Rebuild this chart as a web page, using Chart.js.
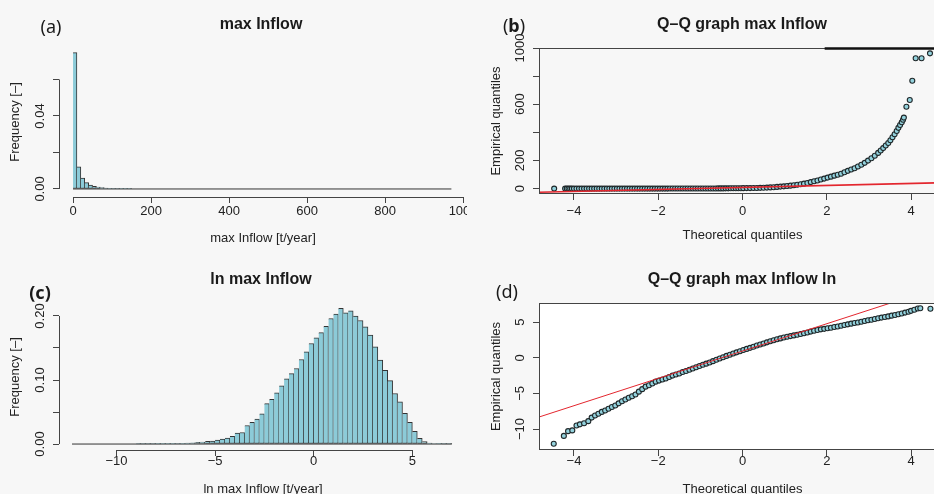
<!DOCTYPE html>
<html>
<head>
<meta charset="utf-8">
<script src="https://cdn.jsdelivr.net/npm/chart.js@4.4.1/dist/chart.umd.min.js"></script>
<style>
  html, body { margin: 0; padding: 0; width: 934px; height: 494px; overflow: hidden; background: #f7f7f7; }
  #fig { position: relative; width: 934px; height: 494px; overflow: hidden; }
  canvas { position: absolute; background: #f7f7f7; }
  .lbl { position: absolute; transform: translate(-50%, -50%); white-space: nowrap; color: #1a1a1a; line-height: 1; }
  .panel { font-family: 'Noto Sans', sans-serif; font-size: 18px; }
  .ttl { font-family: 'Liberation Sans', Arial, sans-serif; font-weight: bold; font-size: 16px; }
</style>
</head>
<body>
<div id="fig">
  <canvas id="cA" width="467" height="247" style="left:0;top:0"></canvas>
  <canvas id="cB" width="479" height="247" style="left:467px;top:0"></canvas>
  <canvas id="cC" width="467" height="260" style="left:0;top:247px"></canvas>
  <canvas id="cD" width="479" height="260" style="left:467px;top:247px"></canvas>

  <div class="lbl panel" style="left:51px;top:26px">(a)</div>
  <div class="lbl panel" style="left:514px;top:25px">(<b>b</b>)</div>
  <div class="lbl panel" style="left:40px;top:292px"><b>(c)</b></div>
  <div class="lbl panel" style="left:507px;top:291px">(d)</div>

  <div class="lbl ttl" style="left:261px;top:24px">max Inflow</div>
  <div class="lbl ttl" style="left:742px;top:24px">Q–Q graph max Inflow</div>
  <div class="lbl ttl" style="left:261px;top:279px">ln max Inflow</div>
  <div class="lbl ttl" style="left:742px;top:279px">Q–Q graph max Inflow ln</div>
</div>

<script>
// ---- (a) histogram of max Inflow, 10 t/year bins from 0 to 970
const inflowBinStart = 0;
const inflowBinWidth = 10;
const inflowFreq = [
  0.0747, 0.0121, 0.0059, 0.0035, 0.0022, 0.0015, 0.0011, 0.0007, 0.0005, 0.0003,
  0.0002, 0.0002, 0.0001, 0.0001, 0.0001, 0, 0, 0, 0, 0,
  0, 0, 0, 0, 0, 0, 0, 0, 0, 0,
  0, 0, 0, 0, 0, 0, 0, 0, 0, 0,
  0, 0, 0, 0, 0, 0, 0, 0, 0, 0,
  0, 0, 0, 0, 0, 0, 0, 0, 0, 0,
  0, 0, 0, 0, 0, 0, 0, 0, 0, 0,
  0, 0, 0, 0, 0, 0, 0, 0, 0, 0,
  0, 0, 0, 0, 0, 0, 0, 0, 0, 0,
  0, 0, 0, 0, 0, 0, 0
];
const inflowTicks = [0, 200, 400, 600, 800, 1000];
const inflowTickLabels = ['0', '200', '400', '600', '800', '1000'];
const freqTicksA = [0, 0.02, 0.04, 0.06];
const freqLabelsA = ['0.00', '', '0.04', ''];

// ---- (c) histogram of ln max Inflow, 0.25 bins from -12.25 to 7
const lnBinStart = -12.25;
const lnBinWidth = 0.25;
const lnFreq = [
  0, 0, 0, 0, 0, 0, 0, 0, 0, 0,
  0, 0, 0, 0.0001, 0.0001, 0.0002, 0.0002, 0.0003, 0.0004, 0.0005,
  0.0007, 0.001, 0.0012, 0.0015, 0.002, 0.0025, 0.0031, 0.0041, 0.0046, 0.0062,
  0.0077, 0.0093, 0.012, 0.017, 0.018, 0.029, 0.034, 0.039, 0.047, 0.063,
  0.070, 0.080, 0.091, 0.102, 0.110, 0.118, 0.132, 0.144, 0.157, 0.166,
  0.174, 0.184, 0.196, 0.203, 0.212, 0.205, 0.208, 0.200, 0.193, 0.183,
  0.170, 0.152, 0.131, 0.115, 0.099, 0.079, 0.066, 0.048, 0.034, 0.020,
  0.009, 0.004, 0.0015, 0.0008, 0.0004, 0.0002, 0.0001
];
const lnTicks = [-10, -5, 0, 5];
const lnTickLabels = ['\u221210', '\u22125', '0', '5'];
const freqTicksC = [0, 0.05, 0.10, 0.15, 0.20];
const freqLabelsC = ['0.00', '', '0.10', '', '0.20'];

// ---- (b) Q-Q of max Inflow
const qqTheoB = [
  -4.47, -4.21, -4.17, -4.13, -4.09, -4.05, -4.00, -3.94, -3.88, -3.82,
  -3.76, -3.70, -3.64, -3.58, -3.52, -3.46, -3.40, -3.34, -3.28, -3.22,
  -3.16, -3.10, -3.04, -2.98, -2.92, -2.86, -2.80, -2.74, -2.68, -2.62,
  -2.56, -2.50, -2.44, -2.38, -2.32, -2.26, -2.20, -2.14, -2.08, -2.02,
  -1.96, -1.90, -1.84, -1.78, -1.72, -1.66, -1.60, -1.54, -1.48, -1.42,
  -1.36, -1.30, -1.24, -1.18, -1.12, -1.06, -1.00, -0.94, -0.88, -0.82,
  -0.76, -0.70, -0.64, -0.58, -0.52, -0.46, -0.40, -0.34, -0.28, -0.22,
  -0.16, -0.10, -0.04, 0.02, 0.10, 0.18, 0.26, 0.34, 0.42, 0.50,
  0.58, 0.66, 0.74, 0.82, 0.90, 0.98, 1.06, 1.14, 1.22, 1.30,
  1.38, 1.46, 1.54, 1.62, 1.70, 1.78, 1.86, 1.94, 2.02, 2.10,
  2.18, 2.26, 2.34, 2.42, 2.50, 2.58, 2.66, 2.74, 2.82, 2.90,
  2.98, 3.06, 3.14, 3.22, 3.28, 3.34, 3.40, 3.46, 3.51, 3.56,
  3.61, 3.66, 3.70, 3.74, 3.78, 3.81, 3.83, 3.89, 3.97, 4.03,
  4.11, 4.25, 4.45
];
const qqEmpB = [
  0, 0, 0, 0, 0, 0, 0, 0, 0, 0,
  0, 0, 0, 0, 0, 0, 0, 0, 0, 0,
  0, 0, 0, 0, 0, 0, 0, 0, 0, 0,
  0, 0, 0, 0, 0, 0, 0, 0, 0, 0,
  0.04, 0.05, 0.06, 0.08, 0.09, 0.11, 0.13, 0.15, 0.18, 0.21,
  0.25, 0.28, 0.32, 0.37, 0.42, 0.48, 0.55, 0.62, 0.70, 0.78,
  0.88, 0.98, 1.1, 1.2, 1.35, 1.5, 1.65, 1.8, 2.0, 2.2,
  2.4, 2.6, 2.85, 3.0, 3.3, 3.6, 4.0, 4.5, 5.1, 6.0,
  7.0, 8.5, 10, 12, 14, 16, 18.5, 21, 24, 27,
  31, 35, 40, 46, 52, 58, 65, 71, 78, 85,
  92, 98, 106, 116, 126, 136, 145, 157, 170, 183,
  199, 216, 234, 254, 271, 288, 306, 324, 344, 365,
  386, 410, 432, 452, 472, 490, 505, 582, 630, 767,
  927, 927, 962
];
const qqLineBx = [-4.83, 4.83];
const qqLineBy = [-26.3, 42.3];
const qqTicksX = [-4, -2, 0, 2, 4];
const qqTickLabelsX = ['\u22124', '\u22122', '0', '2', '4'];
const empTicksB = [0, 200, 400, 600, 800, 1000];
const empLabelsB = ['0', '200', '', '600', '', '1000'];

// ---- (d) Q-Q of ln max Inflow
const qqTheoD = [
  -4.48, -4.24, -4.14, -4.04, -3.94, -3.86, -3.76, -3.66, -3.58, -3.50,
  -3.42, -3.34, -3.26, -3.18, -3.10, -3.02, -2.94, -2.86, -2.78, -2.70,
  -2.62, -2.54, -2.46, -2.38, -2.30, -2.22, -2.14, -2.06, -1.98, -1.90,
  -1.82, -1.74, -1.66, -1.58, -1.50, -1.42, -1.34, -1.26, -1.18, -1.10,
  -1.02, -0.94, -0.86, -0.78, -0.70, -0.62, -0.54, -0.46, -0.38, -0.30,
  -0.22, -0.14, -0.06, 0.02, 0.10, 0.18, 0.26, 0.34, 0.42, 0.50,
  0.58, 0.66, 0.74, 0.82, 0.90, 0.98, 1.06, 1.14, 1.22, 1.30,
  1.38, 1.46, 1.54, 1.62, 1.70, 1.78, 1.86, 1.94, 2.02, 2.10,
  2.18, 2.26, 2.34, 2.42, 2.50, 2.58, 2.66, 2.74, 2.82, 2.90,
  2.98, 3.06, 3.14, 3.22, 3.30, 3.38, 3.46, 3.54, 3.62, 3.70,
  3.78, 3.86, 3.94, 4.00, 4.08, 4.16, 4.22, 4.46
];
const qqEmpD = [
  -12.08, -10.97, -10.3, -10.2, -9.5, -9.35, -9.2, -8.9, -8.4, -8.1,
  -7.85, -7.6, -7.4, -7.15, -6.9, -6.7, -6.4, -6.1, -5.85, -5.6,
  -5.4, -5.15, -4.75, -4.4, -4.05, -3.85, -3.6, -3.35, -3.2, -3.05,
  -2.9, -2.7, -2.5, -2.35, -2.2, -2.0, -1.85, -1.68, -1.5, -1.33,
  -1.15, -0.98, -0.82, -0.65, -0.47, -0.28, -0.1, 0.08, 0.27, 0.43,
  0.6, 0.77, 0.93, 1.1, 1.25, 1.4, 1.56, 1.72, 1.87, 2.02,
  2.17, 2.32, 2.46, 2.6, 2.73, 2.85, 2.95, 3.05, 3.15, 3.25,
  3.35, 3.45, 3.55, 3.68, 3.8, 3.9, 4.0, 4.07, 4.15, 4.23,
  4.32, 4.4, 4.5, 4.6, 4.7, 4.8, 4.88, 4.97, 5.07, 5.17,
  5.27, 5.35, 5.45, 5.55, 5.65, 5.73, 5.82, 5.92, 6.02, 6.12,
  6.22, 6.35, 6.48, 6.6, 6.75, 6.92, 6.97, 6.9
];
const qqLineDx = [-4.83, 4.83];
const qqLineDy = [-8.32, 10.22];
const empTicksD = [-10, -5, 0, 5];
const empLabelsD = ['\u221210', '\u22125', '0', '5'];

const barFill = '#8ccbd8';
const barEdge = '#333';
const ptFill = '#93d2dd';
const ptEdge = '#1f2729';
const qqRed = '#e3262e';

Chart.defaults.font.family = "'Liberation Sans', Arial, Helvetica, sans-serif";
Chart.defaults.font.size = 13;
Chart.defaults.color = '#222';

// R-style frame: full box for the Q-Q plots, axis lines only between the outer ticks for histograms
const frame = {
  id: 'frame',
  beforeDraw(chart, args, o) {
    if (!o.plotBg) return;
    const a = chart.chartArea;
    chart.ctx.save();
    chart.ctx.fillStyle = o.plotBg;
    chart.ctx.fillRect(a.left, a.top, a.right - a.left, a.bottom - a.top);
    chart.ctx.restore();
  },
  afterDatasetsDraw(chart, args, o) {
    const {ctx, chartArea: a, scales: {x, y}} = chart;
    ctx.save();
    ctx.strokeStyle = '#444';
    ctx.lineWidth = 1;
    if (o.box) {
      ctx.strokeRect(a.left + 0.5, a.top + 0.5, a.right - a.left, a.bottom - a.top - 1);
      if (o.heavyTopFrom != null) {
        // the scanned figure has a heavier top rule on the right part of (b)
        ctx.strokeStyle = '#111';
        ctx.lineWidth = 2.5;
        ctx.beginPath();
        ctx.moveTo(x.getPixelForValue(o.heavyTopFrom), a.top + 0.5);
        ctx.lineTo(a.right, a.top + 0.5);
        ctx.stroke();
      }
    } else {
      const xt = x.ticks, yt = y.ticks;
      ctx.beginPath();
      ctx.moveTo(a.left + 0.5, y.getPixelForValue(yt[0].value));
      ctx.lineTo(a.left + 0.5, y.getPixelForValue(yt[yt.length - 1].value));
      ctx.moveTo(x.getPixelForValue(xt[0].value), a.bottom + 0.5);
      ctx.lineTo(x.getPixelForValue(xt[xt.length - 1].value), a.bottom + 0.5);
      ctx.stroke();
    }
    ctx.restore();
  }
};

function axis(c) {
  return {
    type: 'linear',
    min: c.min,
    max: c.max,
    offset: false,
    border: { display: false },
    grid: { display: true, offset: false, drawOnChartArea: false, drawTicks: true, tickLength: 6, tickWidth: 1, tickColor: '#444' },
    ticks: {
      autoSkip: false,
      padding: c.pad,
      color: '#222',
      minRotation: c.rot || 0,
      maxRotation: c.rot || 0,
      crossAlign: c.rot ? 'center' : 'near',
      callback: (v, i) => c.labels[i]
    },
    title: { display: true, text: c.title, color: '#222', padding: { top: c.titlePad, bottom: c.titlePad } },
    afterBuildTicks: s => { s.ticks = c.ticks.map(v => ({ value: v })); },
    afterFit: s => {
      if (c.width != null) s.width = c.width;
      if (c.height != null) s.height = c.height;
      s.paddingLeft = s.paddingRight = s.paddingTop = s.paddingBottom = 0;
    }
  };
}

function makeChart(id, type, datasets, o) {
  return new Chart(document.getElementById(id), {
    type: type,
    data: { datasets: datasets },
    options: {
      responsive: false,
      animation: false,
      devicePixelRatio: 1,
      events: [],
      layout: { autoPadding: false, padding: { top: o.top, left: 0, right: 0, bottom: 0 } },
      plugins: {
        legend: { display: false },
        tooltip: { enabled: false },
        frame: { box: o.box, plotBg: o.plotBg, heavyTopFrom: o.heavyTopFrom }
      },
      scales: { x: axis(o.x), y: axis(o.y) }
    },
    plugins: [frame]
  });
}

function histSets(start, width, freq) {
  return [
    {
      type: 'line',
      data: [{ x: start, y: 0 }, { x: start + width * freq.length, y: 0 }],
      borderColor: barEdge, borderWidth: 1, pointRadius: 0, order: 0
    },
    {
      type: 'bar',
      data: freq.map((f, i) => ({ x: start + width * (i + 0.5), y: f })),
      backgroundColor: barFill, borderColor: barEdge, borderWidth: 1,
      borderSkipped: 'left', barPercentage: 1, categoryPercentage: 1, order: 1
    }
  ];
}

function qqSets(tx, ey, lx, ly, lw) {
  return [
    {
      type: 'line',
      data: lx.map((v, i) => ({ x: v, y: ly[i] })),
      borderColor: qqRed, borderWidth: lw, pointRadius: 0, order: 0
    },
    {
      type: 'scatter',
      data: tx.map((v, i) => ({ x: v, y: ey[i] })),
      pointRadius: 2.5, borderWidth: 1.1, borderColor: ptEdge, backgroundColor: ptFill, order: 1
    }
  ];
}

makeChart('cA', 'bar', histSets(inflowBinStart, inflowBinWidth, inflowFreq), {
  top: 47, box: false,
  x: { min: -36, max: 1010, ticks: inflowTicks, labels: inflowTickLabels, pad: 1, title: 'max Inflow [t/year]', titlePad: 1, height: 50 },
  y: { min: -0.0044, max: 0.0778, ticks: freqTicksA, labels: freqLabelsA, pad: 0, rot: 90, title: 'Frequency [–]', titlePad: 8, width: 59 }
});

makeChart('cB', 'scatter', qqSets(qqTheoB, qqEmpB, qqLineBx, qqLineBy, 1.6), {
  top: 48, box: true, heavyTopFrom: 1.95,
  x: { min: -4.83, max: 4.83, ticks: qqTicksX, labels: qqTickLabelsX, pad: 4, title: 'Theoretical quantiles', titlePad: 4, height: 53 },
  y: { min: -38.5, max: 1000, ticks: empTicksB, labels: empLabelsB, pad: -1.5, rot: 90, title: 'Empirical quantiles', titlePad: 22, width: 72 }
});

makeChart('cC', 'bar', histSets(lnBinStart, lnBinWidth, lnFreq), {
  top: 57, box: false,
  x: { min: -12.91, max: 7.77, ticks: lnTicks, labels: lnTickLabels, pad: -2.5, title: 'ln max Inflow [t/year]', titlePad: 9.5, height: 57 },
  y: { min: -0.0093, max: 0.2187, ticks: freqTicksC, labels: freqLabelsC, pad: 0, rot: 90, title: 'Frequency [–]', titlePad: 8, width: 59 }
});

makeChart('cD', 'scatter', qqSets(qqTheoD, qqEmpD, qqLineDx, qqLineDy, 1), {
  top: 56, box: true, plotBg: '#ffffff',
  x: { min: -4.83, max: 4.83, ticks: qqTicksX, labels: qqTickLabelsX, pad: -2.5, title: 'Theoretical quantiles', titlePad: 9.5, height: 57 },
  y: { min: -12.95, max: 7.7, ticks: empTicksD, labels: empLabelsD, pad: 2, rot: 90, title: 'Empirical quantiles', titlePad: 22, width: 72 }
});
</script>
</body>
</html>
